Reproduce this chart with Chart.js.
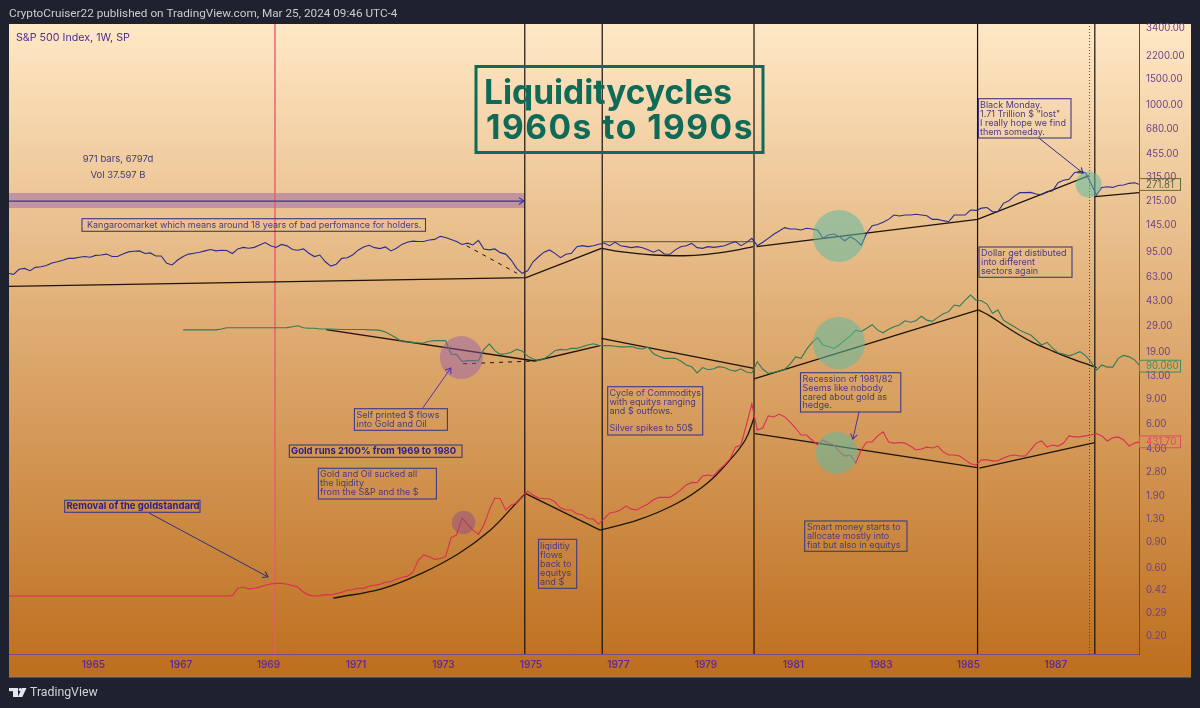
<!DOCTYPE html>
<html>
<head>
<meta charset="utf-8">
<title>Liquidity cycles</title>
<script src="https://cdn.jsdelivr.net/npm/chart.js@4"></script>
<style>
	html, body { margin: 0; padding: 0; background: #1e222e; }
	canvas { display: block; }
</style>
</head>
<body>
<canvas id="chart" width="1200" height="708"></canvas>
<script>
// sample dates: one reading every 1/8 year, 1963.05 onwards
var sampleStart = 1963.05;
var sampleStep = 0.125;

// values are read against the right hand log axis
var spxValues = [65.6,64.6,70,71,68.4,72.2,73,74.4,77.5,79,81,83.4,83.4,85,86,85,87.5,88,89.3,86,
	86,89.3,92.5,93.5,94,90.2,91,86.7,86.7,77,75,81.2,86,89.3,90.6,92,94,96,94,95,
	94.5,90.2,97,99.5,98,99.5,103.4,107.5,102,99.4,104.3,101.9,96.1,95.1,97.1,90.5,85.8,88,79,73.7,
	75.9,83.4,84.2,88,95.1,100.1,102.9,99,97.5,100.1,94,98,104.3,108.1,109.9,109.3,109.3,111.8,113,118.7,
	116.6,113,109.3,104.3,106.5,103.4,111.2,97,95.5,97,91.4,89.3,81.2,71,65.6,68.3,79,85.6,92.1,95.4,
	90.4,84.4,89,90.4,100.6,102.2,100.6,102.2,104.5,106.6,102.2,107.9,102.2,100.6,99,100.6,99,95.6,92.1,95.6,
	89.4,89,95.6,100.6,102.2,106,99,97.9,100.6,99.5,100.6,102.2,106,109,102.2,107.3,114.9,102.2,107.9,114.9,
	122.6,129.3,136.5,133.6,133.6,131.5,135,133.6,131.5,115.2,121.3,123.1,118,110.6,118,112,103,124.8,140.8,143.7,
	148.6,155.8,167,164.4,167,167,169,167,165,155.8,155.8,152.6,150,167,167,167,181,179.9,186.5,188.4,
	176,176,201.4,210,226,239,239,240,234,231,243,246.5,280,292,296,329,336,329,277.5,230,
	260,263,260,268,270,277.5,280,272];

var dxyOffset = 32;
var dxyValues = [26.5,26.5,26.5,26.5,26.5,26.5,26.5,26.9,27.4,27.4,27.4,27.4,27.4,27.4,27.4,27.4,27.4,27.4,27.4,27.5,
	27.9,28.3,27.4,27.2,27.2,26.9,26.9,26.9,26.8,26.7,26.7,26.7,26.7,26.7,26.5,26.5,26.3,25.6,24.4,23.3,
	21.9,21.9,21.7,21.5,21.5,22.1,22.3,22.3,22.3,18,17.9,16,16.2,16.2,16.1,19.4,21.2,19,17.9,18.1,
	18.5,19.4,18.9,17.4,16.6,16.2,16.7,17.7,19,19.4,19.2,19.7,19.7,20.2,20.8,21.2,20.7,20.6,20.6,20.4,
	20.2,20.2,20.3,19.8,19.5,20.1,18.1,17.4,16.8,16.8,16.8,16.1,15.1,14.7,13.3,14.5,14,14.2,14.7,14.5,
	13.95,13.7,14.2,13.5,13.3,15.9,14.1,13.2,13.4,13.7,14.1,15.3,17.2,16.8,19.4,21.6,23.4,20.8,20.3,19.7,
	20.8,22.5,24.1,26.4,25.8,27.2,28.8,26.4,25.3,26.8,27.9,28.7,30.7,30,30.7,33,31,30.4,32.4,34.3,
	35.5,39.5,38.8,42.7,46.3,42.7,42.3,40.1,34.6,36.4,31,29.4,27.9,26.4,25.3,24.4,22.6,20.8,21.7,19.8,
	18.4,18,17.5,18,18.7,17.6,15.9,13.9,15.1,14.6,14.6,16.8,17.6,17.2,16.4,14.8];

var goldValues = [0.373,0.373,0.373,0.373,0.373,0.373,0.373,0.373,0.373,0.373,0.373,0.373,0.373,0.373,0.373,0.373,0.373,0.373,0.373,0.373,
	0.373,0.373,0.373,0.373,0.373,0.373,0.373,0.373,0.373,0.373,0.373,0.373,0.373,0.373,0.373,0.373,0.373,0.373,0.373,0.373,
	0.373,0.375,0.422,0.43,0.418,0.422,0.43,0.443,0.452,0.456,0.456,0.45,0.44,0.43,0.396,0.378,0.373,0.375,0.381,0.378,
	0.388,0.396,0.409,0.412,0.422,0.422,0.436,0.443,0.45,0.465,0.47,0.487,0.503,0.51,0.546,0.66,0.72,0.7,0.67,0.68,
	0.7,0.95,0.99,1.3,1.18,1.07,1,1.16,1.48,1.79,1.77,1.48,1.6,1.65,1.85,2,1.88,1.79,1.77,1.77,
	1.68,1.53,1.48,1.48,1.39,1.37,1.29,1.28,1.18,1.29,1.41,1.43,1.48,1.58,1.5,1.48,1.56,1.63,1.74,1.81,
	1.81,1.81,1.91,2.04,2.21,2.3,2.29,2.55,2.59,2.55,2.81,3.04,3.35,4.05,4.19,5.78,8.1,5.33,5.5,6.68,
	6.57,6.88,6.57,6.05,5.5,4.92,4.92,4.54,4.19,4.54,4.32,4.19,3.75,3.51,3.57,3.15,3.87,4.4,4.4,4.85,
	5.18,4.4,4.32,4.36,4.32,4.12,3.87,3.93,4.05,3.99,4.12,3.75,3.57,3.57,3.51,3.3,3.1,3.04,3.3,3.3,
	3.25,3.25,3.4,3.51,3.57,3.51,3.51,3.87,4.32,4.47,4.05,4.19,4.12,4.32,4.85,4.77,4.77,4.85,4.92,5.03,
	4.85,4.47,4.7,4.77,4.54,4.12,4.32,4.4];

// last price labels on the axis
var lastLabels = ['271.81', '90.060', '431.70'];

// axis ticks
var yearTicks = [1965,1967,1969,1971,1973,1975,1977,1979,1981,1983,1985,1987];
var priceTicks = [3400,2200,1500,1000,680,455,315,215,145,95,63,43,29,19,13,9,6,4,2.8,1.9,1.3,0.9,0.6,0.42,0.29,0.2];

// vertical markers
var redLineYear = 1969.15;
var cycleYears = [1974.86,1976.63,1980.1,1985.21,1987.89];
var dottedYear = 1987.77;

// trend lines, [year, value]
var spxTrend1 = [[1963.07,53.3],[1974.89,61.2],[1976.61,98]];
var spxTrend2 = [[1976.61,98],[1977.04,92.8],[1977.8,88],[1978.48,87],[1979.02,89],[1979.63,94.4],[1980.08,100.5]];
var spxRange = [[1976.65,108.9],[1980.08,108.9]];
var spxTrend3 = [[1980.16,100.5],[1985.21,156],[1987.76,313.6]];
var spxTrend4 = [[1987.89,224],[1988.9,238.8]];
var spxDashed = [[1973.53,102.1],[1974.68,65.7]];
var dxyTrend1 = [[1970.32,26.6],[1975.09,16.1],[1976.58,20.6]];
var dxyTrend2 = [[1976.61,23.1],[1980.1,14.3]];
var dxyTrend3 = [[1980.1,12.1],[1985.23,36.5]];
var dxyTrend4 = [[1985.23,36.5],[1985.49,33.2],[1985.8,28.7],[1986.1,25.1],[1986.48,21.6],[1986.87,19.2],[1987.25,17.2],[1987.63,15.6],[1987.93,14.5]];
var dxyDashed = [[1973.45,15.4],[1975.09,16.1]];
var goldTrend1 = [[1970.48,0.36],[1971.61,0.42],[1972.49,0.534],[1973.36,0.74],[1974.07,1.07],[1974.59,1.56],[1974.87,1.93]];
var goldTrend2 = [[1974.87,1.93],[1976.58,1.07]];
var goldTrend3 = [[1976.58,1.07],[1977.45,1.26],[1978.33,1.64],[1979.03,2.27],[1979.55,3.3],[1979.9,4.54],[1980.1,6.46]];
var goldTrend4 = [[1980.12,5.02],[1985.21,2.92]];
var goldTrend5 = [[1985.25,2.89],[1987.89,4.35]];

// arrows, [year, value]
var bandLine = [[1963.07,209],[1974.84,209]];
var bandArea = [[1963.07,210.8],[1974.86,210.8]];
var removalArrow = [[1966.27,1.41],[1968.99,0.506]];
var printedArrow = [[1972.53,7.59],[1973.17,14.4]];
var mondayArrow = [[1986.61,574],[1987.62,327]];
var recessionArrow = [[1982.5,7.12],[1982.36,4.61]];

// highlighted zones
var tealZones = [[1982.04,119.4],[1982.04,21.5],[1981.99,3.69],[1987.75,272.4]];
var purpleZones = [[1973.41,17],[1973.46,1.21]];

// annotation boxes are drawn in page space
var notes = [
	{ x:82, y:218.7, w:343.5, h:12.6, tx:87, ty:[225], lines:['Kangaroomarket which means around 18 years of bad perfomance for holders.'] },
	{ x:978.5, y:98.7, w:92.5, h:39.3, tx:980, ty:[105,114,123,132], lines:['Black Monday.','1.71 Trillion $ "lost"','I really hope we find','them someday.'] },
	{ x:979, y:247, w:93, h:30.3, tx:981, ty:[253.3,262,271], lines:['Dollar get distibuted','into different','sectors again'] },
	{ x:354.4, y:408.7, w:93, h:21.6, tx:356.5, ty:[415,424], lines:['Self printed $ flows','into Gold and Oil'] },
	{ x:289.3, y:445, w:172.7, h:12.3, tx:291, ty:[451], bold:true, lines:['Gold runs 2100% from 1969 to 1980'] },
	{ x:318.4, y:468.3, w:118, h:30.7, tx:320, ty:[474.7,483.7,492.3], lines:['Gold and Oil sucked all','the liqidity','from the S&P and the $'] },
	{ x:64.7, y:500.3, w:135.3, h:12, tx:66.5, ty:[506], bold:true, lines:['Removal of the goldstandard'] },
	{ x:538.5, y:539.3, w:38.2, h:49, tx:540, ty:[546.3,555.2,564,573,582], lines:['liqiditiy','flows','back to','equitys','and $'] },
	{ x:607.7, y:386.7, w:95, h:48.3, tx:609.5, ty:[393,402,411,428.5], lines:['Cycle of Commoditys','with equitys ranging','and $ outfows.','Silver spikes to 50$'] },
	{ x:800.5, y:372.7, w:100.3, h:39.3, tx:802.5, ty:[379,388,397,405.7], lines:['Recession of 1981/82','Seems like nobody','cared about gold as','hedge.'] },
	{ x:804.7, y:521, w:102.3, h:30.3, tx:807, ty:[527.3,536,545], lines:['Smart money starts to','allocate mostly into','fiat but also in equitys'] }
];

var trendColor = '#1f1408';
var uiFont = 'Inter, "Noto Sans", sans-serif';

function dates(values, offset) {
	return values.map(function (v, i) {
		return { x: sampleStart + (i + offset) * sampleStep, y: v };
	});
}

function pairs(list) {
	return list.map(function (p) { return { x: p[0], y: p[1] }; });
}

function line(list, color, width, extra) {
	return Object.assign({
		type: 'line',
		data: pairs(list),
		borderColor: color,
		borderWidth: width,
		pointRadius: 0,
		tension: 0,
		fill: false
	}, extra || {});
}

function series(values, offset, color) {
	return {
		type: 'line',
		data: dates(values, offset),
		borderColor: color,
		borderWidth: 1.1,
		pointRadius: 0,
		tension: 0,
		fill: false
	};
}

function marker(year, color, width, extra) {
	return line([[year, 0.1471], [year, 3567]], color, width, extra);
}

var arrowSets = [
	line(bandLine, '#3a3596', 1.2),
	line(removalArrow, '#2f3180', 1),
	line(printedArrow, '#5a2fb0', 1),
	line(mondayArrow, '#2f3180', 1),
	line(recessionArrow, '#4a35a0', 1)
];

var zoneSets = [
	{ type: 'scatter', data: pairs(tealZones), backgroundColor: 'rgba(95,185,160,0.55)', pointRadius: [26,26,21,13], pointBorderWidth: 0, showLine: false },
	{ type: 'scatter', data: pairs(purpleZones), backgroundColor: ['rgba(150,92,175,0.46)','rgba(140,70,140,0.45)'], pointRadius: [21.5,11.7], pointBorderWidth: 0, showLine: false }
];

var cycleSets = cycleYears.map(function (y) { return marker(y, '#17110c', 1.2); });

var datasets = [].concat(
	arrowSets,
	zoneSets,
	[
		series(spxValues, 0, '#2b2c8f'),
		series(dxyValues, dxyOffset, '#2f7d5a'),
		series(goldValues, 0, '#dc2d56'),
		line(spxTrend1, trendColor, 1.3),
		line(spxTrend2, trendColor, 1.3, { tension: 0.4 }),
		line(spxRange, 'rgba(50,40,30,0.75)', 1),
		line(spxTrend3, trendColor, 1.3),
		line(spxTrend4, trendColor, 1.3),
		line(spxDashed, trendColor, 1, { borderDash: [4, 5] }),
		line(dxyTrend1, trendColor, 1.3),
		line(dxyTrend2, trendColor, 1.3),
		line(dxyTrend3, trendColor, 1.3),
		line(dxyTrend4, trendColor, 1.3, { tension: 0.4 }),
		line(dxyDashed, trendColor, 1, { borderDash: [4, 5] }),
		line(goldTrend1, trendColor, 1.3, { tension: 0.4 }),
		line(goldTrend2, trendColor, 1.3),
		line(goldTrend3, trendColor, 1.3, { tension: 0.4 }),
		line(goldTrend4, trendColor, 1.3),
		line(goldTrend5, trendColor, 1.3)
	],
	cycleSets,
	[
		marker(dottedYear, '#5b4a2c', 1, { borderDash: [1, 2] }),
		marker(redLineYear, '#e95a6e', 1.4),
		line(bandArea, 'rgba(135,80,170,0.42)', 15, { borderCapStyle: 'butt' })
	]
);

var backdrop = {
	id: 'backdrop',
	beforeDraw: function (chart) {
		var c = chart.ctx;
		c.save();
		c.fillStyle = '#1e222e';
		c.fillRect(0, 0, 1200, 708);
		var g = c.createLinearGradient(0, 24, 0, 677);
		g.addColorStop(0, '#ffe8c6');
		g.addColorStop(0.45, '#e0ae75');
		g.addColorStop(1, '#bd6e1d');
		c.fillStyle = g;
		c.fillRect(9, 24, 1182, 653);
		c.fillStyle = '#8a8278';
		c.fillRect(9, 676.5, 1182, 1);
		c.fillStyle = '#c9ccd4';
		c.font = '11.75px Roboto, ' + uiFont;
		c.textBaseline = 'middle';
		c.textAlign = 'left';
		c.fillText('CryptoCruiser22 published on TradingView.com, Mar 25, 2024 09:46 UTC-4', 9, 14);
		// logo
		c.fillStyle = '#e6e7ea';
		c.fillRect(9, 688, 9, 3.2);
		c.fillRect(13, 688, 5, 9);
		c.beginPath();
		c.arc(20.3, 689.6, 1.7, 0, Math.PI * 2);
		c.fill();
		c.beginPath();
		c.moveTo(26.5, 688);
		c.lineTo(22.3, 697);
		c.lineTo(17.8, 697);
		c.lineTo(22, 688);
		c.closePath();
		c.fill();
		c.fillStyle = '#d1d4dc';
		c.font = '12.3px Roboto, ' + uiFont;
		c.fillText('TradingView', 30, 692.5);
		c.restore();
	}
};

var arrowHeads = {
	id: 'arrowHeads',
	afterDatasetsDraw: function (chart) {
		var c = chart.ctx;
		arrowSets.forEach(function (set, i) {
			var pts = chart.getDatasetMeta(i).data;
			var a = pts[pts.length - 2], b = pts[pts.length - 1];
			var ang = Math.atan2(b.y - a.y, b.x - a.x);
			c.save();
			c.strokeStyle = set.borderColor;
			c.lineWidth = 1.1;
			c.beginPath();
			c.moveTo(b.x - 6 * Math.cos(ang - 0.6), b.y - 6 * Math.sin(ang - 0.6));
			c.lineTo(b.x, b.y);
			c.lineTo(b.x - 6 * Math.cos(ang + 0.6), b.y - 6 * Math.sin(ang + 0.6));
			c.stroke();
			c.restore();
		});
	}
};

var annotations = {
	id: 'annotations',
	afterDraw: function (chart) {
		var c = chart.ctx;
		var yScale = chart.scales.y;
		c.save();
		c.textBaseline = 'middle';
		c.textAlign = 'left';

		// title
		c.strokeStyle = '#0f6b58';
		c.lineWidth = 3;
		c.strokeRect(476, 66.5, 287, 86);
		c.fillStyle = '#0f6b58';
		c.textBaseline = 'alphabetic';
		c.font = '700 33.5px ' + uiFont;
		c.fillText('Liquiditycycles', 484, 104);
		c.letterSpacing = '1.5px';
		c.fillText('1960s to 1990s', 486, 139);
		c.letterSpacing = '0px';
		c.textBaseline = 'middle';

		c.fillStyle = '#4b2f8e';
		c.font = '10.7px ' + uiFont;
		c.fillText('S&P 500 Index, 1W, SP', 16, 38);

		c.fillStyle = '#443a78';
		c.font = '9.5px ' + uiFont;
		c.textAlign = 'center';
		c.fillText('971 bars, 6797d', 118, 159);
		c.fillText('Vol 37.597 B', 118, 175);
		c.textAlign = 'left';

		notes.forEach(function (n) {
			c.strokeStyle = '#3f3a80';
			c.lineWidth = 1.1;
			c.strokeRect(n.x, n.y, n.w, n.h);
			c.fillStyle = n.bold ? '#2a1f86' : '#4a3a80';
			c.font = (n.bold ? '700 9.5px ' : '9px ') + uiFont;
			n.lines.forEach(function (t, i) {
				c.fillText(t, n.tx, n.ty[i]);
			});
		});

		// last price labels follow the series
		var ends = [
			{ v: spxValues[spxValues.length - 1], text: lastLabels[0], edge: '#5f6a3a', color: '#5c5f3e' },
			{ v: dxyValues[dxyValues.length - 1], text: lastLabels[1], edge: '#3f8f5f', color: '#3f8f5f' },
			{ v: goldValues[goldValues.length - 1], text: lastLabels[2], edge: '#dd4a62', color: '#dd4a62' }
		];
		ends.forEach(function (e) {
			var py = yScale.getPixelForValue(e.v);
			c.strokeStyle = e.edge;
			c.lineWidth = 1;
			c.strokeRect(1139.5, py - 6, 41, 11.8);
			c.fillStyle = e.color;
			c.font = '9.7px ' + uiFont;
			c.fillText(e.text, 1146, py);
		});
		c.restore();
	}
};

new Chart(document.getElementById('chart'), {
	data: { datasets: datasets },
	plugins: [backdrop, arrowHeads, annotations],
	options: {
		responsive: false,
		animation: false,
		devicePixelRatio: 1,
		layout: { autoPadding: false, padding: { left: 9, top: 24, right: 0, bottom: 0 } },
		plugins: { legend: { display: false }, tooltip: { enabled: false } },
		scales: {
			x: {
				type: 'linear',
				min: 1963.07,
				max: 1988.9,
				grid: { display: false, drawTicks: false },
				border: { color: '#7a4a86', width: 1 },
				afterBuildTicks: function (s) {
					s.ticks = yearTicks.map(function (y) { return { value: y }; });
				},
				afterFit: function (s) {
					s.height = 54;
					s.paddingLeft = 0;
					s.paddingRight = 0;
				},
				ticks: {
					autoSkip: false,
					maxRotation: 0,
					padding: 5,
					color: '#5f2c94',
					font: { family: uiFont, size: 10, weight: '600' },
					callback: function (v) { return String(v); }
				}
			},
			y: {
				type: 'logarithmic',
				position: 'right',
				min: 0.1471,
				max: 3567,
				grid: { display: false, drawTicks: false },
				border: { color: '#5f3f8e', width: 1 },
				afterBuildTicks: function (s) {
					s.ticks = priceTicks.map(function (v) { return { value: v }; });
				},
				afterFit: function (s) {
					s.width = 61;
					s.paddingTop = 0;
					s.paddingBottom = 0;
				},
				ticks: {
					autoSkip: false,
					padding: 7,
					labelOffset: 1.5,
					color: '#6a3f8e',
					font: { family: uiFont, size: 9.7 },
					callback: function (v) { return v.toFixed(2); }
				}
			}
		}
	}
});
</script>
</body>
</html>
